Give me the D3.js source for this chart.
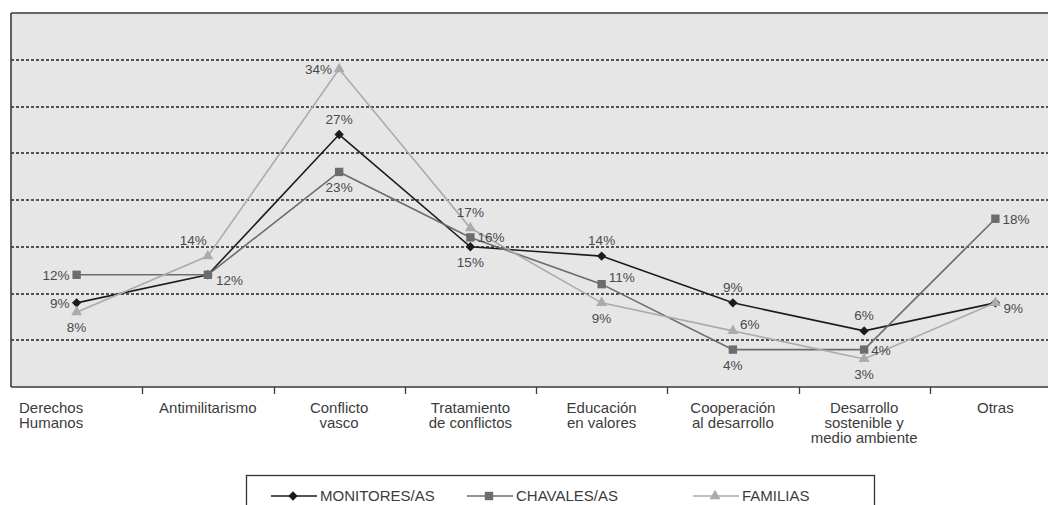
<!DOCTYPE html>
<html>
<head>
<meta charset="utf-8">
<script src="https://cdn.jsdelivr.net/npm/d3@7"></script>
<style>
  html, body { margin: 0; padding: 0; background: #ffffff; }
  svg { display: block; }
  text { font-family: "Liberation Sans", Arial, Helvetica, sans-serif; }
</style>
</head>
<body>
<svg id="chart" width="1048" height="505"></svg>
<script>
// ---- data ----
const categories = [
  "Derechos\nHumanos",
  "Antimilitarismo",
  "Conflicto\nvasco",
  "Tratamiento\nde conflictos",
  "Educación\nen valores",
  "Cooperación\nal desarrollo",
  "Desarrollo\nsostenible y\nmedio ambiente",
  "Otras"
];
const monitores = [9, 12, 27, 15, 14, 9, 6, 9];
const chavales  = [12, 12, 23, 16, 11, 4, 4, 18];
const familias  = [8, 14, 34, 17, 9, 6, 3, 9];
const yTicks = [5, 10, 15, 20, 25, 30, 35];
const seriesNames = ["MONITORES/AS", "CHAVALES/AS", "FAMILIAS"];

// label placement codes (t, b, l, r, tl, ru, rd; '' = no label)
const labelPosMonitores = ["l", "", "t", "b", "t", "t", "t", "rd"];
const labelPosChavales  = ["l", "rd", "b", "r", "ru", "b", "r", "r"];
const labelPosFamilias  = ["b", "tl", "l", "t", "b", "ru", "b", ""];

// ---- layout ----
const svg = d3.select("#chart");
const pLeft = 11, pTop = 13, pBottom = 387, pRight = 1061;

const x = d3.scaleBand().domain(categories).range([pLeft, pRight]);
const y = d3.scaleLinear().domain([0, 40]).range([pBottom, pTop]);

// plot background
svg.append("rect")
  .attr("x", pLeft).attr("y", pTop)
  .attr("width", pRight - pLeft).attr("height", pBottom - pTop)
  .attr("fill", "#e6e6e7");

// gridlines
svg.append("g").selectAll("line").data(yTicks).join("line")
  .attr("x1", pLeft).attr("x2", pRight)
  .attr("y1", d => Math.round(y(d))).attr("y2", d => Math.round(y(d)))
  .attr("stroke", "#222").attr("stroke-width", 1.6)
  .attr("stroke-dasharray", "3,2");

// frame: top, left, bottom axis
svg.append("line").attr("x1", pLeft).attr("x2", pRight).attr("y1", pTop).attr("y2", pTop)
  .attr("stroke", "#3a3a3a").attr("stroke-width", 1.6);
svg.append("line").attr("x1", pLeft).attr("x2", pLeft).attr("y1", pTop).attr("y2", pBottom)
  .attr("stroke", "#3a3a3a").attr("stroke-width", 1.6);
svg.append("line").attr("x1", pLeft).attr("x2", pRight).attr("y1", pBottom).attr("y2", pBottom)
  .attr("stroke", "#3a3a3a").attr("stroke-width", 1.6);

// category ticks at band boundaries
svg.append("g").selectAll("line").data(categories.slice(1)).join("line")
  .attr("x1", d => Math.round(x(d)) + 0.5).attr("x2", d => Math.round(x(d)) + 0.5)
  .attr("y1", pBottom).attr("y2", pBottom + 7)
  .attr("stroke", "#3a3a3a").attr("stroke-width", 1.3);

// category labels
const catG = svg.append("g");
categories.forEach((c, i) => {
  const lines = c.split("\n");
  const cx = x(c) + x.bandwidth() / 2;
  const t = catG.append("text")
    .attr("font-size", 15)
    .attr("fill", "#3c3c3c")
    .attr("text-anchor", i === 0 ? "start" : "middle");
  lines.forEach((ln, j) => {
    t.append("tspan")
      .attr("x", i === 0 ? x(c) + 8 : cx)
      .attr("y", 413 + j * 15)
      .text(ln);
  });
});

// series
const series = [
  { name: seriesNames[0], values: monitores, pos: labelPosMonitores, color: "#1c1c1c", width: 1.6, sym: "diamond" },
  { name: seriesNames[1], values: chavales,  pos: labelPosChavales,  color: "#6c6c6c", width: 1.6, sym: "square" },
  { name: seriesNames[2], values: familias,  pos: labelPosFamilias,  color: "#ababab", width: 1.6, sym: "triangle" }
];

function symbolPath(kind) {
  if (kind === "diamond") return d3.symbol().type(d3.symbolSquare).size(44)();
  if (kind === "square") return d3.symbol().type(d3.symbolSquare).size(70)();
  return d3.symbol().type(d3.symbolTriangle).size(52)();
}
function symbolRotate(kind) { return kind === "diamond" ? " rotate(45)" : ""; }

const cxOf = i => x(categories[i]) + x.bandwidth() / 2;

series.forEach(s => {
  const line = d3.line().x((d, i) => cxOf(i)).y(d => y(d));
  svg.append("path").datum(s.values)
    .attr("d", line).attr("fill", "none")
    .attr("stroke", s.color).attr("stroke-width", s.width);
  svg.append("g").selectAll("path").data(s.values).join("path")
    .attr("d", symbolPath(s.sym))
    .attr("transform", (d, i) => `translate(${cxOf(i)},${y(d)})` + symbolRotate(s.sym))
    .attr("fill", s.color);
});

// data labels
const lblG = svg.append("g");
series.forEach(s => {
  s.values.forEach((v, i) => {
    const p = s.pos[i];
    if (!p) return;
    const px = cxOf(i), py = y(v);
    let tx = px, ty = py, anchor = "middle";
    if (p === "t") { ty = py - 11; }
    else if (p === "b") { ty = py + 20; }
    else if (p === "l") { tx = px - 7; ty = py + 5; anchor = "end"; }
    else if (p === "r") { tx = px + 7; ty = py + 5; anchor = "start"; }
    else if (p === "tl") { tx = px - 1; ty = py - 11; anchor = "end"; }
    else if (p === "ru") { tx = px + 7; ty = py - 2; anchor = "start"; }
    else if (p === "rd") { tx = px + 8; ty = py + 10; anchor = "start"; }
    lblG.append("text")
      .attr("x", tx).attr("y", ty)
      .attr("text-anchor", anchor)
      .attr("font-size", 13.5)
      .attr("fill", "#4a4a4a")
      .text(v + "%");
  });
});

// legend
svg.append("rect")
  .attr("x", 246.5).attr("y", 475.5)
  .attr("width", 628).attr("height", 60)
  .attr("fill", "#ffffff").attr("stroke", "#333").attr("stroke-width", 1.3);

const legendX = [271, 467, 693];
series.forEach((s, i) => {
  const lx = legendX[i];
  const ly = 496;
  const g = svg.append("g");
  g.append("line").attr("x1", lx).attr("x2", lx + 46).attr("y1", ly).attr("y2", ly)
    .attr("stroke", s.color).attr("stroke-width", s.width);
  g.append("path").attr("d", symbolPath(s.sym))
    .attr("transform", `translate(${lx + 22},${ly})` + symbolRotate(s.sym))
    .attr("fill", s.color);
  g.append("text").attr("x", lx + 49).attr("y", 501)
    .attr("font-size", 15).attr("fill", "#3c3c3c")
    .text(s.name);
});
</script>
</body>
</html>
